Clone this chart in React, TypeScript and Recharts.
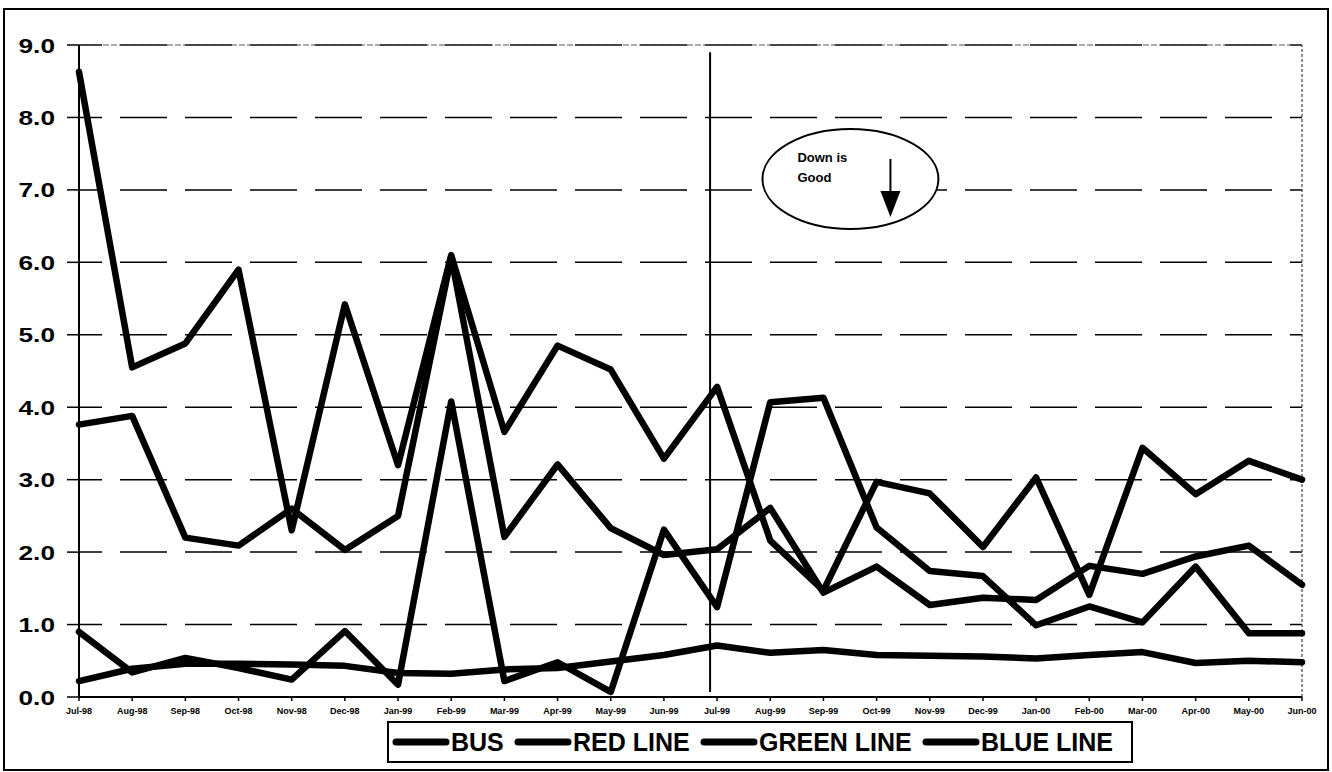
import React from 'react';
import {
  LineChart,
  Line,
  XAxis,
  YAxis,
  CartesianGrid,
  Legend,
  ReferenceLine,
  ReferenceDot,
} from 'recharts';

const months = [
  'Jul-98', 'Aug-98', 'Sep-98', 'Oct-98', 'Nov-98', 'Dec-98',
  'Jan-99', 'Feb-99', 'Mar-99', 'Apr-99', 'May-99', 'Jun-99',
  'Jul-99', 'Aug-99', 'Sep-99', 'Oct-99', 'Nov-99', 'Dec-99',
  'Jan-00', 'Feb-00', 'Mar-00', 'Apr-00', 'May-00', 'Jun-00',
];

const busValues = [
  0.22, 0.39, 0.46, 0.46, 0.45, 0.43, 0.33, 0.32, 0.38, 0.40, 0.49, 0.58,
  0.71, 0.61, 0.65, 0.58, 0.57, 0.56, 0.53, 0.58, 0.62, 0.47, 0.50, 0.48,
];

const redLineValues = [
  8.63, 4.55, 4.88, 5.90, 2.30, 5.42, 3.20, 6.10, 3.66, 4.85, 4.52, 3.29,
  4.28, 2.16, 1.47, 2.97, 2.81, 2.07, 3.03, 1.41, 3.44, 2.80, 3.26, 3.00,
];

const greenLineValues = [
  3.76, 3.88, 2.20, 2.09, 2.60, 2.03, 2.50, 6.07, 2.21, 3.21, 2.33, 1.96,
  2.04, 2.61, 1.44, 1.80, 1.27, 1.37, 1.34, 1.81, 1.70, 1.94, 2.09, 1.55,
];

const blueLineValues = [
  0.90, 0.34, 0.54, 0.40, 0.24, 0.91, 0.17, 4.08, 0.22, 0.48, 0.07, 2.31,
  1.24, 4.07, 4.13, 2.34, 1.74, 1.67, 0.99, 1.25, 1.03, 1.80, 0.88, 0.88,
];

const yTicks = [0, 1, 2, 3, 4, 5, 6, 7, 8, 9];

const seriesNames = ['BUS', 'RED LINE', 'GREEN LINE', 'BLUE LINE'];
const seriesKeys = ['bus', 'red', 'green', 'blue'];

const data = months.map((m, i) => ({
  month: m,
  bus: busValues[i],
  red: redLineValues[i],
  green: greenLineValues[i],
  blue: blueLineValues[i],
}));

const FONT = '"Liberation Sans", Arial, Helvetica, sans-serif';

// approximate advance widths of the legend labels at 25px bold
const legendTextWidths: Record<string, number> = {
  'BUS': 53,
  'RED LINE': 117,
  'GREEN LINE': 153,
  'BLUE LINE': 132,
};

const YTick = (props: any) => {
  const { x, y, payload } = props;
  return (
    <g transform={`translate(${x},${y})`}>
      <text
        x={0}
        y={0}
        textAnchor="end"
        dominantBaseline="central"
        fontSize={21}
        fontWeight="bold"
        fontFamily={FONT}
        fill="#000"
        transform="scale(1.25,1)"
      >
        {Number(payload.value).toFixed(1)}
      </text>
    </g>
  );
};

const LegendBox = (props: any) => {
  const payload = [...(props.payload || [])].sort(
    (a: any, b: any) => seriesNames.indexOf(String(a.value)) - seriesNames.indexOf(String(b.value))
  );
  let cursor = 5;
  const items = payload.map((p: any, i: number) => {
    const name = String(p.value);
    const w = legendTextWidths[name] ?? 100;
    const lx1 = cursor + 4;
    const lx2 = cursor + 54;
    const tx = cursor + 59;
    cursor = tx + w + 10;
    return (
      <g key={i}>
        <line x1={lx1} y1={21} x2={lx2} y2={21} stroke="#000" strokeWidth={7} strokeLinecap="round" />
        <text x={tx} y={30} fontSize={25} fontWeight="bold" fontFamily={FONT} fill="#000">
          {name}
        </text>
      </g>
    );
  });
  return (
    <svg width={746} height={42} style={{ display: 'block', overflow: 'visible' }}>
      <rect x={1} y={1} width={744} height={40} fill="#fff" stroke="#000" strokeWidth={2} />
      {items}
    </svg>
  );
};

const Annotation = (props: any) => {
  const { cx, cy } = props;
  if (cx == null || cy == null) return null;
  const ex = cx + 27;
  return (
    <g>
      <ellipse cx={ex} cy={cy} rx={88} ry={50} fill="#fff" stroke="#000" strokeWidth={2} />
      <text x={ex - 53} y={cy - 17} fontSize={13} fontWeight="bold" fontFamily={FONT} fill="#000">
        Down is
      </text>
      <text x={ex - 53} y={cy + 3} fontSize={13} fontWeight="bold" fontFamily={FONT} fill="#000">
        Good
      </text>
      <line x1={ex + 40} y1={cy - 20} x2={ex + 40} y2={cy + 16} stroke="#000" strokeWidth={2} />
      <polygon
        points={`${ex + 30},${cy + 12} ${ex + 50},${cy + 12} ${ex + 40},${cy + 38}`}
        fill="#000"
      />
    </g>
  );
};

const DividerShape = (props: any) => {
  const { x1, y1, x2, y2 } = props;
  if ([x1, y1, x2, y2].some((v) => v == null || Number.isNaN(v))) return null;
  return <line x1={x1 - 7} y1={y1} x2={x2 - 7} y2={y2} stroke="#000" strokeWidth={2} />;
};

export default function App() {
  return (
    <div
      style={{
        position: 'absolute',
        left: 0,
        top: 0,
        width: 1332,
        height: 772,
        background: '#fff',
        fontFamily: FONT,
      }}
    >
      <LineChart
        width={1332}
        height={772}
        data={data}
        margin={{ top: 45, right: 30, left: 0, bottom: 0 }}
      >
        <CartesianGrid
          vertical={false}
          stroke="#000"
          strokeWidth={1.5}
          strokeDasharray="47 18"
          strokeDashoffset={24}
        />
        <XAxis
          dataKey="month"
          height={75}
          tickSize={4}
          tickMargin={7}
          interval={0}
          axisLine={{ stroke: '#000', strokeWidth: 2 }}
          tickLine={{ stroke: '#000', strokeWidth: 1.5 }}
          tick={{ fontSize: 9, fontWeight: 'bold', fill: '#000', fontFamily: FONT }}
        />
        <YAxis
          width={79}
          domain={[0, 9]}
          ticks={yTicks}
          interval={0}
          tickSize={12}
          tickMargin={12}
          axisLine={{ stroke: '#000', strokeWidth: 2 }}
          tickLine={{ stroke: '#000', strokeWidth: 1.5 }}
          tick={<YTick />}
        />
        <ReferenceLine y={9} stroke="#555" strokeWidth={1.2} strokeDasharray="6 2" />
        <ReferenceLine x="Jun-00" stroke="#444" strokeWidth={1.2} strokeDasharray="3 2" />
        <ReferenceLine
          segment={[
            { x: 'Jul-99', y: 0.07 },
            { x: 'Jul-99', y: 8.9 },
          ]}
          stroke="#000"
          strokeWidth={2}
          shape={<DividerShape />}
        />
        <ReferenceDot x="Sep-99" y={7.15} r={1} shape={<Annotation />} ifOverflow="visible" />
        {seriesKeys.map((k, i) => (
          <Line
            key={k}
            type="linear"
            dataKey={k}
            name={seriesNames[i]}
            stroke="#000"
            strokeWidth={6.5}
            strokeLinejoin="round"
            strokeLinecap="round"
            dot={false}
            activeDot={false}
            isAnimationActive={false}
          />
        ))}
        <Legend
          layout="horizontal"
          verticalAlign="middle"
          align="center"
          content={<LegendBox />}
          wrapperStyle={{ left: 387, top: 721, width: 746, height: 42 }}
        />
      </LineChart>
      <div
        style={{
          position: 'absolute',
          left: 3,
          top: 8,
          width: 1326,
          height: 763,
          boxSizing: 'border-box',
          border: '2px solid #000',
          pointerEvents: 'none',
        }}
      />
    </div>
  );
}
